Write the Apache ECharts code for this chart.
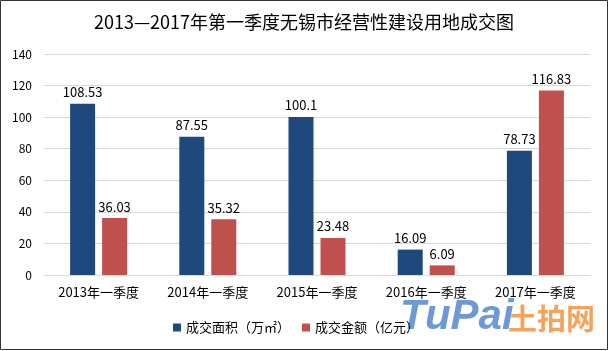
<!DOCTYPE html>
<html>
<head>
<meta charset="utf-8">
<script src="https://cdn.jsdelivr.net/npm/echarts@6/dist/echarts.min.js"></script>
<style>
  html, body { margin: 0; padding: 0; background: #fff; }
  #chart { width: 608px; height: 351px; }
</style>
</head>
<body>
<div id="chart"></div>
<script>
// 数据
var categories = ['2013年一季度', '2014年一季度', '2015年一季度', '2016年一季度', '2017年一季度'];
var areaValues = [108.53, 87.55, 100.1, 16.09, 78.73];
var amountValues = [36.03, 35.32, 23.48, 6.09, 116.83];
var seriesNames = ['成交面积（万㎡）', '成交金额（亿元）'];

var font = '"Microsoft YaHei", "Noto Sans CJK SC", sans-serif';

var chart = echarts.init(document.getElementById('chart'));
var option = {
    backgroundColor: '#fff',
    title: {
        text: '2013—2017年第一季度无锡市经营性建设用地成交图',
        left: 'center',
        top: 8,
        textStyle: { fontSize: 18, fontWeight: 'normal', color: '#000', fontFamily: font }
    },
    graphic: [
        {
            type: 'rect',
            shape: { x: 0.5, y: 0.5, width: 607, height: 349 },
            style: { fill: 'none', stroke: '#333', lineWidth: 1 },
            z: 10
        },
        {
            type: 'text',
            left: 400, top: 296,
            style: { text: 'TuPai', fontSize: 42, fontWeight: 'bold', fontStyle: 'italic', fill: 'rgba(60,120,200,0.75)', fontFamily: 'Arial' },
            z: 0
        },
        {
            type: 'text',
            left: 508, top: 304,
            style: { text: '土拍网', fontSize: 29, fontWeight: 'bold', fill: 'rgba(240,140,50,0.8)', fontFamily: font },
            z: 0
        }
    ],
    legend: {
        data: seriesNames,
        bottom: 12,
        left: 168,
        itemWidth: 8,
        itemHeight: 8,
        itemGap: 12,
        icon: 'rect',
        textStyle: { fontSize: 13, color: '#000', fontFamily: font }
    },
    grid: { left: 44, right: 18, top: 54, bottom: 76 },
    xAxis: {
        type: 'category',
        data: categories,
        axisLine: { lineStyle: { color: '#d9d9d9' } },
        axisTick: { show: false },
        axisLabel: { fontSize: 13, color: '#000', margin: 11, fontFamily: font }
    },
    yAxis: {
        type: 'value',
        min: 0,
        max: 140,
        interval: 20,
        axisLine: { show: false },
        axisTick: { show: false },
        splitLine: { lineStyle: { color: '#d9d9d9' } },
        axisLabel: { fontSize: 12, color: '#000', margin: 12, fontFamily: font }
    },
    series: [
        {
            name: seriesNames[0],
            type: 'bar',
            data: areaValues,
            barWidth: 25,
            barGap: '28%',
            itemStyle: { color: '#1f497d' },
            label: { show: true, position: 'top', fontSize: 13, color: '#000', fontFamily: font }
        },
        {
            name: seriesNames[1],
            type: 'bar',
            data: amountValues,
            barWidth: 25,
            itemStyle: { color: '#c0504d' },
            label: { show: true, position: 'top', fontSize: 13, color: '#000', fontFamily: font }
        }
    ]
};
chart.setOption(option);
</script>
</body>
</html>
